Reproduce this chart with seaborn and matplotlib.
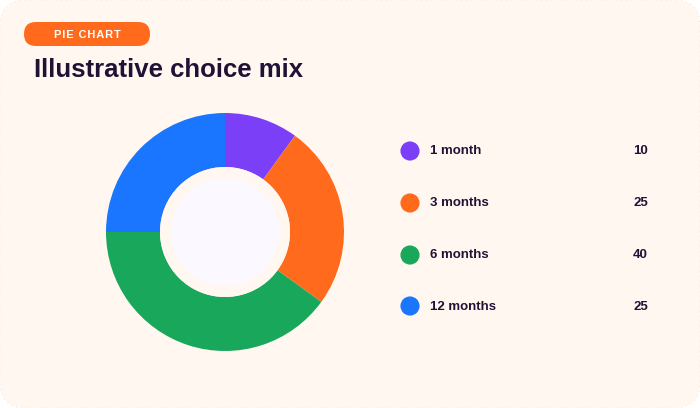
import matplotlib
matplotlib.use("Agg")
import matplotlib.pyplot as plt
from matplotlib.patches import FancyBboxPatch, Circle
import seaborn as sns
import pandas as pd

categories = ["1 month", "3 months", "6 months", "12 months"]
values = [10, 25, 40, 25]
colors = ["#7B3FF7", "#FF6A1C", "#19A75B", "#1A76FF"]
badge = "PIE CHART"
title = "Illustrative choice mix"

sns.set_theme(style="white")
plt.rcParams["font.family"] = ["Liberation Sans", "DejaVu Sans"]

W, H = 700, 408
fig = plt.figure(figsize=(W / 100, H / 100), dpi=100)
fig.patch.set_facecolor("white")

bg = fig.add_axes([0, 0, 1, 1])
bg.set_xlim(0, W)
bg.set_ylim(H, 0)
bg.axis("off")
bg.patch.set_alpha(0)

card_color = "#FFF7F0"
text_color = "#1F1235"

card = FancyBboxPatch((0, 0), W, H, boxstyle="round,pad=0,rounding_size=26",
                      facecolor=card_color, edgecolor="#E4DCD6", linewidth=0.6,
                      linestyle=(0, (1, 5)))
bg.add_patch(card)

pill = FancyBboxPatch((24, 22), 126, 24, boxstyle="round,pad=0,rounding_size=12",
                      facecolor="#FF6A1C", edgecolor="none")
bg.add_patch(pill)
bg.text(87, 34.5, "\u200a".join(badge), color="white", fontsize=8,
        fontweight="bold", ha="center", va="center")
bg.text(34, 70, title, color=text_color, fontsize=18.5, fontweight="bold",
        ha="left", va="center")

# legend
df = pd.DataFrame({"cat": categories, "val": values,
                   "x": [410] * 4, "y": [151, 203, 255, 306]})
sns.scatterplot(data=df, x="x", y="y", hue="cat", palette=colors, s=190,
                edgecolor="none", legend=False, ax=bg)
bg.set_xlim(0, W)
bg.set_ylim(H, 0)
bg.axis("off")
for _, r in df.iterrows():
    bg.text(430, r["y"] + 0.5, r["cat"], color=text_color, fontsize=9.5,
            fontweight="bold", ha="left", va="center")
    bg.text(648, r["y"] + 0.5, str(r["val"]), color=text_color, fontsize=9.5,
            fontweight="bold", ha="right", va="center")

# donut
cx, cy, R = 225, 232, 119
box = 122
ax = fig.add_axes([(cx - box) / W, (H - cy - box) / H, 2 * box / W, 2 * box / H])
ax.pie(values, colors=colors, radius=R, startangle=90, counterclock=False,
       wedgeprops=dict(width=R - 65, edgecolor="none"), center=(0, 0), frame=True)
ax.set_xlim(-box, box)
ax.set_ylim(-box, box)
ax.set_aspect("equal")
ax.axis("off")
ax.patch.set_alpha(0)
ax.add_patch(Circle((0, 0), 65, facecolor=card_color, edgecolor="none", zorder=5))
ax.add_patch(Circle((0, 0), 54, facecolor="#FBF9FF", edgecolor="none", zorder=6))

fig.savefig("out.png", dpi=100, facecolor="white")
